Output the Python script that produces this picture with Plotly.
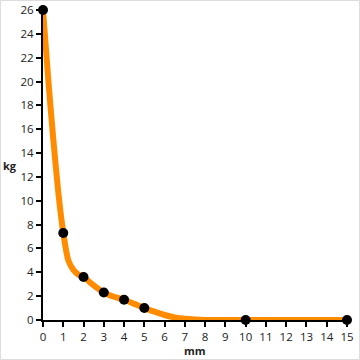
import plotly.graph_objects as go

# measured points
mm = [0, 1, 2, 3, 4, 5, 10, 15]
kg = [26, 7.3, 3.6, 2.3, 1.7, 1.0, 0, 0]

# smooth curve
curve_mm = [0, 0.25, 0.5, 0.75, 1, 1.25, 1.5, 1.75, 2, 2.5, 3, 3.5, 4, 4.5, 5, 5.5, 6, 6.5, 7, 7.5, 8, 10, 15]
curve_kg = [26, 20.4, 15.3, 10.8, 7.3, 5.0, 4.2, 3.8, 3.6, 2.9, 2.3, 1.95, 1.7, 1.35, 1.0, 0.7, 0.42, 0.22, 0.1, 0.04, 0.01, 0, 0]

x_ticks = list(range(0, 16))
y_ticks = list(range(0, 27, 2))

fig = go.Figure()
fig.add_trace(go.Scatter(x=curve_mm, y=curve_kg, mode="lines",
                         line=dict(color="#FF8C00", width=6, shape="spline", smoothing=0.6),
                         hoverinfo="skip", cliponaxis=False))
fig.add_trace(go.Scatter(x=mm, y=kg, mode="markers",
                         marker=dict(color="black", size=10), cliponaxis=False))

axis_common = dict(showgrid=False, zeroline=False, showline=True, linecolor="black", linewidth=2,
                   ticks="outside", ticklen=5, tickwidth=2, tickcolor="black", automargin=False,
                   tickfont=dict(family="Open Sans", size=11.5, color="#222"))
fig.update_layout(
    width=360, height=360, margin=dict(l=43, r=13, t=10, b=40, autoexpand=False),
    paper_bgcolor="white", plot_bgcolor="white", showlegend=False,
    xaxis=dict(range=[0, 15], tickvals=x_ticks, **axis_common),
    yaxis=dict(range=[0, 26], tickvals=y_ticks, **axis_common),
    annotations=[
        dict(text="<b>mm</b>", x=0.5, y=-30/310, xref="paper", yref="paper", showarrow=False,
             xanchor="center", yanchor="middle", font=dict(family="Open Sans", size=11, color="#222")),
        dict(text="<b>kg</b>", x=-33/304, y=0.5, xref="paper", yref="paper", showarrow=False,
             xanchor="center", yanchor="middle", font=dict(family="Open Sans", size=11, color="#222")),
    ],
    shapes=[dict(type="rect", xref="paper", yref="paper",
                 x0=-42.5/304, x1=1 + 12.5/304, y0=-39.5/310, y1=1 + 9.5/310,
                 line=dict(color="#dddddd", width=1), layer="below")],
)
fig.write_html("out.html")
